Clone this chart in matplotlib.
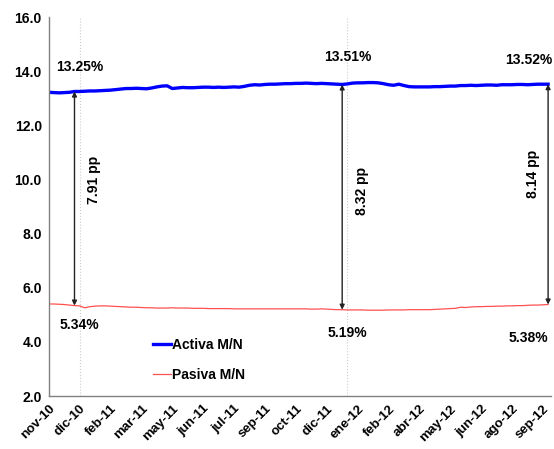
import numpy as np
import matplotlib.pyplot as plt

plt.rcParams['font.family'] = ['Liberation Sans', 'DejaVu Sans']

# weekly rates, nov-10 .. sep-12
activa = [13.22, 13.21, 13.20, 13.21, 13.22, 13.25, 13.25, 13.26, 13.27, 13.27,
          13.28, 13.29, 13.30, 13.32, 13.34, 13.36, 13.36, 13.37, 13.36, 13.35,
          13.38, 13.42, 13.45, 13.46, 13.36, 13.38, 13.40, 13.39, 13.39, 13.40,
          13.41, 13.41, 13.40, 13.41, 13.40, 13.41, 13.42, 13.41, 13.44, 13.48,
          13.50, 13.49, 13.51, 13.52, 13.52, 13.53, 13.54, 13.54, 13.55, 13.55,
          13.56, 13.55, 13.54, 13.55, 13.54, 13.53, 13.52, 13.51, 13.53, 13.56,
          13.57, 13.57, 13.58, 13.58, 13.57, 13.54, 13.50, 13.48, 13.52, 13.47,
          13.43, 13.42, 13.42, 13.42, 13.42, 13.43, 13.43, 13.44, 13.45, 13.45,
          13.47, 13.47, 13.48, 13.47, 13.48, 13.49, 13.49, 13.48, 13.50, 13.50,
          13.50, 13.51, 13.51, 13.50, 13.51, 13.52, 13.52, 13.52]
pasiva = [5.40, 5.40, 5.39, 5.38, 5.36, 5.34, 5.33, 5.26, 5.30, 5.32,
          5.33, 5.33, 5.32, 5.31, 5.30, 5.29, 5.28, 5.28, 5.27, 5.26,
          5.26, 5.25, 5.25, 5.25, 5.26, 5.25, 5.25, 5.25, 5.24, 5.24,
          5.24, 5.23, 5.23, 5.23, 5.23, 5.23, 5.22, 5.22, 5.22, 5.22,
          5.22, 5.22, 5.22, 5.22, 5.22, 5.22, 5.22, 5.22, 5.22, 5.22,
          5.22, 5.21, 5.21, 5.22, 5.21, 5.20, 5.19, 5.19, 5.18, 5.18,
          5.18, 5.18, 5.17, 5.17, 5.17, 5.17, 5.18, 5.18, 5.18, 5.18,
          5.19, 5.19, 5.19, 5.19, 5.19, 5.20, 5.21, 5.22, 5.23, 5.24,
          5.28, 5.27, 5.29, 5.30, 5.30, 5.31, 5.31, 5.32, 5.32, 5.33,
          5.33, 5.34, 5.34, 5.35, 5.36, 5.36, 5.37, 5.38]

tick_labels = ['nov-10', 'dic-10', 'feb-11', 'mar-11', 'may-11', 'jun-11',
               'jul-11', 'sep-11', 'oct-11', 'dic-11', 'ene-12', 'feb-12',
               'abr-12', 'may-12', 'jun-12', 'ago-12', 'sep-12']
spread_idx = [5, 57, 97]
grid_idx = [6, 58]

x = np.arange(len(activa))

fig = plt.figure(figsize=(5.54, 4.49), dpi=100)
ax = fig.add_axes([0.088, 0.118, 0.906, 0.844])

for g in grid_idx:
    ax.axvline(g, color='#cccccc', lw=0.8, ls=':', zorder=0)

ax.plot(x, activa, color='#0000ff', lw=2.4, label='Activa M/N')
ax.plot(x, pasiva, color='#ff5050', lw=0.9, label='Pasiva M/N')

# spread arrows and labels
lbl_x = [6.0, 58.0, 93.2]
act_off = [0.92, 1.02, 0.88]
pas_off = [-0.70, -0.85, -1.23]
pp_pos = [(8.8, 9.97), (60.8, 9.57), (94.0, 10.2)]
for i, k in enumerate(spread_idx):
    a, p = activa[k], pasiva[k]
    ax.annotate('', xy=(k, p), xytext=(k, a),
                arrowprops=dict(arrowstyle='<|-|>', color='#222222', lw=1.0,
                                mutation_scale=7, shrinkA=0, shrinkB=0))
    ax.text(lbl_x[i], a + act_off[i], f'{a:.2f}%',
            ha='center', va='center', fontsize=10, fontweight='bold')
    ax.text(lbl_x[i], p + pas_off[i], f'{p:.2f}%',
            ha='center', va='center', fontsize=10, fontweight='bold')
    ax.text(pp_pos[i][0], pp_pos[i][1], f'{a - p:.2f} pp', rotation=90,
            ha='center', va='center', fontsize=10, fontweight='bold')

ax.set_ylim(2, 16)
ax.set_yticks(np.arange(2, 16.1, 2))
ax.set_yticklabels([f'{v:.1f}' for v in np.arange(2, 16.1, 2)],
                   fontweight='bold', fontsize=10)
ax.set_xlim(0, 97.5)
ax.set_xticks(np.arange(0, 97, 6))
ax.set_xticklabels(tick_labels, rotation=45, ha='right', rotation_mode='anchor',
                   fontweight='bold', fontsize=9.5)
ax.tick_params(axis='both', length=0, pad=5)

for s in ['top', 'right']:
    ax.spines[s].set_visible(False)
for s in ['left', 'bottom']:
    ax.spines[s].set_color('#808080')
    ax.spines[s].set_linewidth(1.0)

leg = ax.legend(loc='lower left', bbox_to_anchor=(0.182, 0.005), frameon=False,
                handlelength=1.3, handletextpad=0.1, labelspacing=1.1,
                prop={'weight': 'bold', 'size': 10})

fig.savefig('out.png', dpi=100)
